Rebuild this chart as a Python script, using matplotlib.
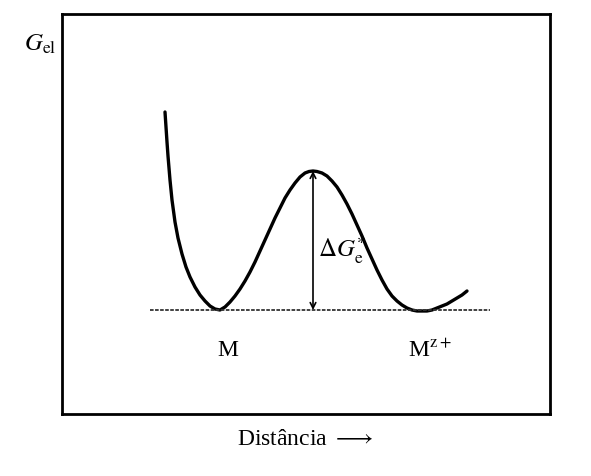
import matplotlib
matplotlib.use("Agg")
import matplotlib.pyplot as plt

plt.rcParams["font.family"] = ["Liberation Serif", "DejaVu Serif"]
plt.rcParams["mathtext.fontset"] = "stix"

# free energy profile (distance, G_el), arbitrary units
dist = [165, 166, 167, 168, 170, 172, 175, 178, 182, 186, 190, 195, 200, 205, 210, 215,
        220, 225, 230, 235, 240, 245, 250, 255, 260, 265, 270, 275, 280, 285, 290, 295,
        300, 305, 309, 313, 317, 322, 327, 332, 337, 342, 347, 352, 357, 362, 367, 372,
        377, 382, 387, 392, 397, 402, 407, 412, 417, 422, 427, 432, 437, 442, 447, 452,
        457, 462, 467]
g_el = [364, 349, 334, 320, 296, 276, 254, 238, 222, 209, 199, 189, 181, 175, 170, 167,
        166, 169, 174, 180, 187, 195, 204, 214, 225, 236, 247, 258, 268, 278, 286, 293,
        299, 303, 304.5, 305, 304.5, 303, 300, 295, 289, 281, 272, 262, 251, 240, 228, 217,
        206, 196, 187, 180, 175, 171, 168, 166, 165, 165, 165, 166, 168, 170, 172, 175,
        178, 181, 185]
baseline = 166
barrier_x = 313
barrier_top = 305

fig = plt.figure(figsize=(5.91, 4.77), dpi=100)
ax = fig.add_axes([62 / 591, 62 / 477, 488 / 591, 400 / 477])
ax.set_xlim(62, 550)
ax.set_ylim(62, 462)
ax.set_xticks([])
ax.set_yticks([])
for s in ax.spines.values():
    s.set_linewidth(2)

ax.plot(dist, g_el, color="black", lw=2.4, solid_capstyle="round", solid_joinstyle="round")
ax.plot([150, 490], [baseline, baseline], color="#333333", lw=1.3, ls=(0, (2, 0.8)))
ax.annotate("", xy=(barrier_x, barrier_top), xytext=(barrier_x, baseline),
            arrowprops=dict(arrowstyle="<->", color="black", lw=1.2, shrinkA=0, shrinkB=0))

ax.text(318, 227, r"$\Delta G_{\mathrm{e}}^{*}$", fontsize=18, va="center", ha="left")
ax.text(228, 126, "M", fontsize=17, ha="center", va="center")
ax.text(430, 126, r"M$^{\mathrm{z+}}$", fontsize=17, ha="center", va="center")

fig.text(40 / 591, 1 - 44 / 477, r"$G_{\mathrm{el}}$", fontsize=18, ha="center", va="center")
fig.text(305 / 591, 1 - 440 / 477, r"Distância $\longrightarrow$", fontsize=17, ha="center", va="center")

fig.savefig("out.png", dpi=100)
